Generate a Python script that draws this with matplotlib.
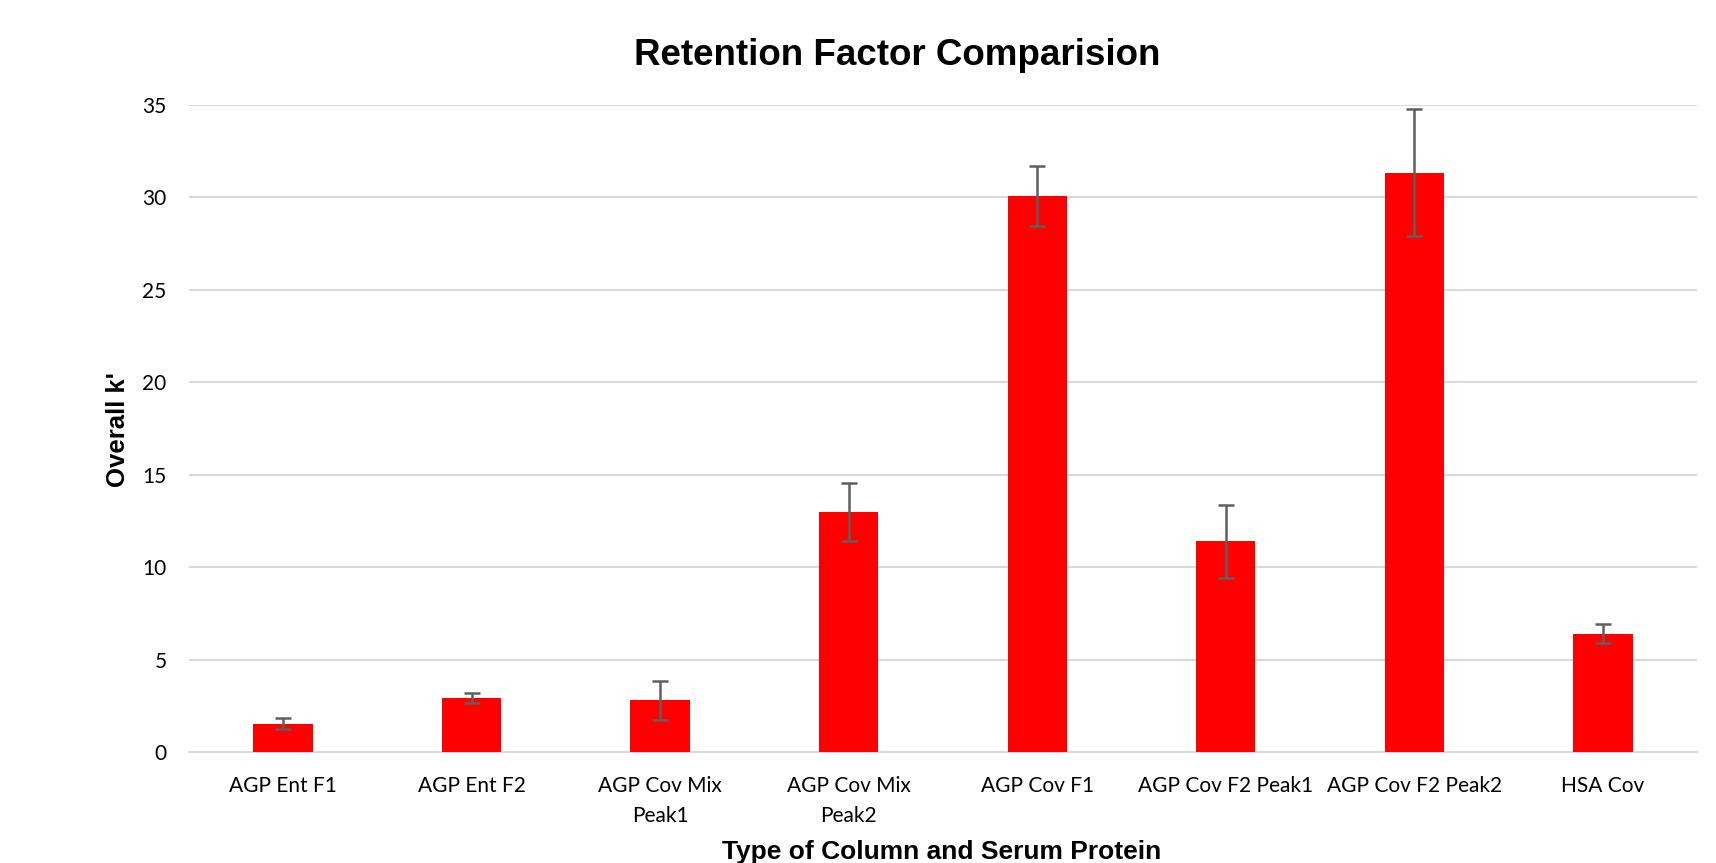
import numpy as np
from matplotlib import pyplot as plt

categories = ["AGP Ent F1", "AGP Ent F2", "AGP Cov Mix\nPeak1", "AGP Cov Mix\nPeak2",
              "AGP Cov F1", "AGP Cov F2 Peak1", "AGP Cov F2 Peak2", "HSA Cov"]
k_values = [1.53, 2.92, 2.80, 13.01, 30.07, 11.39, 31.33, 6.41]
k_errors = [0.30, 0.25, 1.05, 1.57, 1.63, 1.98, 3.44, 0.51]
y_ticks = [0, 5, 10, 15, 20, 25, 30, 35]

fig = plt.figure(figsize=(17.16, 8.63), dpi=100)
ax = fig.add_axes([0.110, 0.1286, 0.879, 0.7497])

x = np.arange(len(categories))
ax.bar(x, k_values, width=0.315, color="#ff0000", zorder=3,
       yerr=k_errors, error_kw=dict(ecolor="#5f5f5f", elinewidth=1.8, capsize=6, capthick=1.8))

ax.set_xlim(-0.5, len(categories) - 0.5)
ax.set_ylim(0, 35)
ax.set_yticks(y_ticks)
ax.set_xticks(x)
ax.set_xticklabels(categories, fontsize=15, family="Lato", linespacing=1.65)
ax.set_yticklabels([str(v) for v in y_ticks], fontsize=15, family="Lato")
ax.tick_params(axis="x", length=0, pad=17)
ax.tick_params(axis="y", length=0, pad=16)

ax.grid(axis="y", color="#d9d9d9", linewidth=1.5, zorder=0)
for s in ["top", "right", "left"]:
    ax.spines[s].set_visible(False)
ax.spines["bottom"].set_color("#d9d9d9")
ax.spines["bottom"].set_linewidth(1.5)

fig.text(0.523, 0.936, "Retention Factor Comparision", ha="center", va="center",
         fontsize=26.5, fontweight="bold", family="Liberation Sans")
fig.text(0.549, 0.013, "Type of Column and Serum Protein", ha="center", va="center",
         fontsize=19, fontweight="bold", family="Liberation Sans")
fig.text(0.069, 0.502, "Overall k'", ha="center", va="center", rotation=90,
         fontsize=18.5, fontweight="bold", family="Liberation Sans")

fig.savefig("out.png", dpi=100)
